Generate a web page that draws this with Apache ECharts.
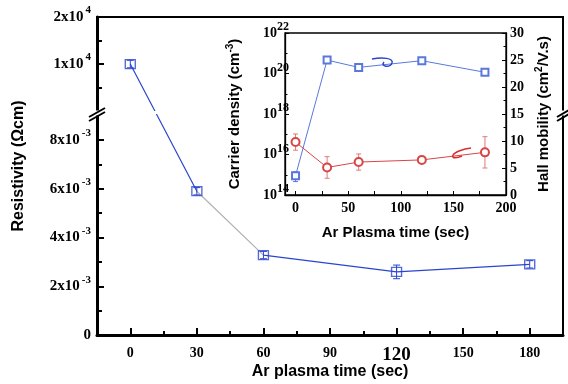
<!DOCTYPE html>
<html>
<head>
<meta charset="utf-8">
<script src="https://cdn.jsdelivr.net/npm/echarts@6/dist/echarts.min.js"></script>
<style>html,body{margin:0;padding:0;background:#fff}#chart{width:568px;height:384px}</style>
</head>
<body>
<div id="chart"></div>
<script>
// main plot: resistivity vs plasma time, broken y axis
const plasmaTime = [0, 30, 60, 120, 180];
const resistivity = [1e4, 5.9e-3, 3.28e-3, 2.59e-3, 2.9e-3];
const resistivityErr = [800, 0.15e-3, 0.15e-3, 0.28e-3, 0.15e-3];

// inset: carrier density (left, log) and Hall mobility (right)
const carrierDensity = [8.9e14, 4.6e20, 2.0e20, 4.3e20, 1.15e20];
const carrierLo = [4.6e14, null, null, null, null];
const carrierHi = [1.4e15, null, null, null, null];
const hallMobility = [9.8, 5.1, 6.1, 6.5, 7.9];
const hallErr = [1.5, 2.0, 1.5, 0.3, 2.9];

// ticks
const mainXTicks = [0, 30, 60, 90, 120, 150, 180];
const mainXMinor = [15, 45, 75, 105, 135, 165];
const lowTicks = [0, 2e-3, 4e-3, 6e-3, 8e-3];
const lowMinor = [1e-3, 3e-3, 5e-3, 7e-3];
const highTicks = [1e4, 2e4];
const highMinor = [5e3, 1.5e4];
const insetXLabels = [0, 50, 100, 150, 200];
const insetXTicks = [0, 25, 50, 75, 100, 125, 150, 175, 200];
const densityTicks = [1e14, 1e16, 1e18, 1e20, 1e22];
const densityMinor = [1e15, 1e17, 1e19, 1e21];

// broken axis: lower part in units of 1e-3, upper part starts after a small gap
const LOW_UNIT = 1e-3;
const HIGH_BASE = 9.19;
const HIGH_UNIT = 1e4 / 1.93;
function toAxis(v) {
  return v < 1 ? v / LOW_UNIT : HIGH_BASE + v / HIGH_UNIT;
}
const U_MAX = toAxis(2e4);

function sciLabel(v) {
  if (v === 0) return '{n|0}';
  const e = Math.floor(Math.log10(v) + 1e-9);
  const m = Math.round(v / Math.pow(10, e));
  return '{n|' + m + 'x10}{s|' + e + '}';
}
const labelByAxis = {};
[...lowTicks, ...highTicks].forEach(v => { labelByAxis[toAxis(v).toFixed(4)] = sciLabel(v); });

const serifBold = { fontFamily: 'Liberation Serif', fontWeight: 'bold', color: '#000' };
const sansBold = { fontFamily: 'Liberation Sans', fontWeight: 'bold', color: '#000' };
const blue = '#2a45cf';
const insetBlue = '#5a78dc';
const red = '#d84545';

const chart = echarts.init(document.getElementById('chart'));

function errorBar(xAxisIndex, yAxisIndex, data, color, half) {
  return {
    type: 'custom',
    xAxisIndex, yAxisIndex,
    data,
    z: 3,
    silent: true,
    renderItem: function (params, api) {
      const x = api.value(0);
      const top = api.coord([x, api.value(2)]);
      const bot = api.coord([x, api.value(1)]);
      const st = { stroke: color, lineWidth: 1 };
      return {
        type: 'group',
        children: [
          { type: 'line', shape: { x1: top[0], y1: top[1], x2: bot[0], y2: bot[1] }, style: st },
          { type: 'line', shape: { x1: top[0] - half, y1: top[1], x2: top[0] + half, y2: top[1] }, style: st },
          { type: 'line', shape: { x1: bot[0] - half, y1: bot[1], x2: bot[0] + half, y2: bot[1] }, style: st }
        ]
      };
    }
  };
}

const mainLine = plasmaTime.map((t, i) => [t, toAxis(resistivity[i])]);
const mainErr = plasmaTime.map((t, i) => [t, toAxis(resistivity[i] - resistivityErr[i]), toAxis(resistivity[i] + resistivityErr[i])]);
const densityLine = plasmaTime.map((t, i) => [t, carrierDensity[i]]);
const densityErr = plasmaTime.map((t, i) => [t, carrierLo[i], carrierHi[i]]).filter(d => d[1] !== null);
const mobilityLine = plasmaTime.map((t, i) => [t, hallMobility[i]]);
const mobilityErr = plasmaTime.map((t, i) => [t, hallMobility[i] - hallErr[i], hallMobility[i] + hallErr[i]]);

const option = {
  animation: false,
  grid: [
    { left: 97, top: 17, right: 5, bottom: 49, show: true, borderColor: '#000', borderWidth: 2, outerBoundsMode: 'none' },
    { left: 285, top: 33, right: 62, bottom: 189, show: true, borderColor: '#000', borderWidth: 1.3, outerBoundsMode: 'none' }
  ],
  xAxis: [
    {
      type: 'value', gridIndex: 0, min: -15, max: 195, position: 'bottom',
      axisLine: { show: true, onZero: false, lineStyle: { color: '#000', width: 3 } },
      axisTick: { show: true, inside: true, length: 7, lineStyle: { color: '#000', width: 2 }, customValues: mainXTicks },
      axisLabel: {
        customValues: mainXTicks, margin: 11,
        formatter: v => v === 120 ? '{big|120}' : '{n|' + v + '}',
        rich: { n: { ...serifBold, fontSize: 14 }, big: { ...serifBold, fontSize: 19 } }
      },
      splitLine: { show: false },
      name: 'Ar plasma time (sec)', nameLocation: 'middle', nameGap: 29, nameMoveOverlap: false,
      nameTextStyle: { ...sansBold, fontSize: 16 }
    },
    {
      type: 'value', gridIndex: 0, min: -15, max: 195, position: 'bottom',
      axisLine: { show: false, onZero: false },
      axisTick: { show: true, inside: true, length: 4, lineStyle: { color: '#000', width: 2 }, customValues: mainXMinor },
      axisLabel: { show: false }, splitLine: { show: false }
    },
    {
      type: 'value', gridIndex: 1, min: -10, max: 200, position: 'bottom',
      axisLine: { show: true, onZero: false, lineStyle: { color: '#000', width: 1.3 } },
      axisTick: { show: true, inside: true, length: 4, lineStyle: { color: '#000' }, customValues: insetXTicks },
      axisLabel: { customValues: insetXLabels, margin: 6, ...serifBold, fontSize: 14 },
      splitLine: { show: false },
      name: 'Ar Plasma time (sec)', nameLocation: 'middle', nameGap: 30,
      nameTextStyle: { ...sansBold, fontSize: 15 }
    }
  ],
  yAxis: [
    {
      type: 'value', gridIndex: 0, min: 0, max: U_MAX, position: 'left',
      axisLine: { show: true, onZero: false, lineStyle: { color: '#000', width: 3 } },
      axisTick: { show: true, inside: true, length: 7, lineStyle: { color: '#000', width: 2 }, customValues: [...lowTicks, ...highTicks].map(toAxis) },
      axisLabel: {
        customValues: [...lowTicks, ...highTicks].map(toAxis), margin: 6,
        formatter: v => labelByAxis[v.toFixed(4)] || '',
        rich: {
          n: { ...serifBold, fontSize: 15 },
          s: { ...serifBold, fontSize: 11, padding: [0, 0, 13, 2] }
        }
      },
      splitLine: { show: false },
      name: 'Resistivity (Ωcm)', nameLocation: 'middle', nameGap: 70, nameMoveOverlap: false,
      nameTextStyle: { ...sansBold, fontSize: 16, padding: [0, 0, 0, 20] }
    },
    {
      type: 'value', gridIndex: 0, min: 0, max: U_MAX, position: 'left',
      axisLine: { show: false, onZero: false },
      axisTick: { show: true, inside: true, length: 5, lineStyle: { color: '#000', width: 2 }, customValues: [...lowMinor, ...highMinor].map(toAxis) },
      axisLabel: { show: false }, splitLine: { show: false }
    },
    {
      type: 'log', logBase: 10, gridIndex: 1, min: 1e14, max: 1e22, position: 'left',
      axisLine: { show: true, onZero: false, lineStyle: { color: '#000', width: 1.3 } },
      axisTick: { show: true, inside: true, length: 4, lineStyle: { color: '#000' }, customValues: densityTicks },
      axisLabel: {
        customValues: densityTicks, margin: -4,
        formatter: v => '{b|10}{s|' + Math.round(Math.log10(v)) + '}',
        rich: {
          b: { ...serifBold, fontSize: 14 },
          s: { ...serifBold, fontSize: 12, padding: [0, 0, 12, 0] }
        }
      },
      splitLine: { show: false },
      name: '{t|Carrier density (cm}{s|-3}{t|)}', nameLocation: 'middle', nameGap: 40,
      nameTextStyle: {
        rich: {
          t: { ...sansBold, fontSize: 15 },
          s: { ...sansBold, fontSize: 10, padding: [0, 0, 10, 0] }
        }
      }
    },
    {
      type: 'log', logBase: 10, gridIndex: 1, min: 1e14, max: 1e22, position: 'left',
      axisLine: { show: false, onZero: false },
      axisTick: { show: true, inside: true, length: 2.5, lineStyle: { color: '#000' }, customValues: densityMinor },
      axisLabel: { show: false }, splitLine: { show: false }
    },
    {
      type: 'value', gridIndex: 1, min: 0, max: 30, interval: 5, position: 'right',
      axisLine: { show: true, onZero: false, lineStyle: { color: '#000', width: 1.3 } },
      axisTick: { show: true, inside: true, length: 4, lineStyle: { color: '#000' } },
      minorTick: { show: true, splitNumber: 2, length: 2.5, lineStyle: { color: '#000' } },
      axisLabel: { margin: 4, ...serifBold, fontSize: 14 },
      splitLine: { show: false },
      name: '{t|Hall mobility (cm}{s|2}{t|/V.s)}', nameLocation: 'middle', nameGap: 28,
      nameTextStyle: {
        rich: {
          t: { ...sansBold, fontSize: 15 },
          s: { ...sansBold, fontSize: 10, padding: [0, 0, 10, 0] }
        }
      }
    }
  ],
  visualMap: {
    show: false, type: 'piecewise', seriesIndex: 0, dimension: 0,
    pieces: [
      { lt: 30, color: blue },
      { gte: 30, lt: 60, color: '#b0b0b0' },
      { gte: 60, color: blue }
    ]
  },
  series: [
    {
      type: 'line', xAxisIndex: 0, yAxisIndex: 0, data: mainLine,
      symbol: 'none', lineStyle: { width: 1.2 }, z: 2
    },
    errorBar(0, 0, mainErr, blue, 3.5),
    {
      type: 'scatter', xAxisIndex: 0, yAxisIndex: 0, data: mainLine,
      symbol: 'rect', symbolSize: [10, 9],
      itemStyle: { color: 'rgba(255,255,255,0)', borderColor: blue, borderWidth: 1.3 }, z: 4
    },
    {
      type: 'line', xAxisIndex: 2, yAxisIndex: 2, data: densityLine,
      symbol: 'emptyRect', symbolSize: 7,
      lineStyle: { color: insetBlue, width: 1 },
      itemStyle: { color: insetBlue, borderColor: insetBlue, borderWidth: 1.1 }, z: 4
    },
    errorBar(2, 2, densityErr, insetBlue, 2.5),
    {
      type: 'line', xAxisIndex: 2, yAxisIndex: 4, data: mobilityLine,
      symbol: 'emptyCircle', symbolSize: 8,
      lineStyle: { color: red, width: 1 },
      itemStyle: { color: red, borderColor: red, borderWidth: 1.1 }, z: 4
    },
    errorBar(2, 4, mobilityErr, '#e07a7a', 2.5)
  ],
  graphic: [
    // break on left axis
    { type: 'rect', shape: { x: 92, y: 110.5, width: 10, height: 5 }, style: { fill: '#fff' }, z: 100 },
    { type: 'rect', shape: { x: 140, y: 111, width: 30, height: 3 }, style: { fill: '#fff' }, z: 100 },
    { type: 'line', shape: { x1: 89, y1: 117, x2: 105, y2: 108 }, style: { stroke: '#000', lineWidth: 2 }, z: 101 },
    { type: 'line', shape: { x1: 89, y1: 121, x2: 105, y2: 112 }, style: { stroke: '#000', lineWidth: 2 }, z: 101 },
    // break on right border
    { type: 'rect', shape: { x: 558, y: 110.5, width: 10, height: 5 }, style: { fill: '#fff' }, z: 100 },
    { type: 'line', shape: { x1: 557, y1: 117, x2: 569, y2: 110 }, style: { stroke: '#000', lineWidth: 2 }, z: 101 },
    { type: 'line', shape: { x1: 557, y1: 121, x2: 569, y2: 114 }, style: { stroke: '#000', lineWidth: 2 }, z: 101 },
    // hand drawn hooks in the inset
    { type: 'bezierCurve', shape: { x1: 372, y1: 59, cpx1: 382, cpy1: 57, cpx2: 394, cpy2: 58, x2: 392, y2: 63 }, style: { stroke: '#2a45cf', lineWidth: 1.5, fill: null }, z: 50 },
    { type: 'bezierCurve', shape: { x1: 392, y1: 63, cpx1: 390, cpy1: 68, cpx2: 380, cpy2: 67, x2: 384, y2: 62 }, style: { stroke: '#2a45cf', lineWidth: 1.5, fill: null }, z: 50 },
    { type: 'bezierCurve', shape: { x1: 471, y1: 148, cpx1: 463, cpy1: 149, cpx2: 455, cpy2: 152, x2: 453, y2: 155 }, style: { stroke: '#d83030', lineWidth: 1.5, fill: null }, z: 50 },
    { type: 'bezierCurve', shape: { x1: 453, y1: 155, cpx1: 451, cpy1: 159, cpx2: 458, cpy2: 158, x2: 462, y2: 156 }, style: { stroke: '#d83030', lineWidth: 1.5, fill: null }, z: 50 }
  ]
};

chart.setOption(option);
</script>
</body>
</html>
